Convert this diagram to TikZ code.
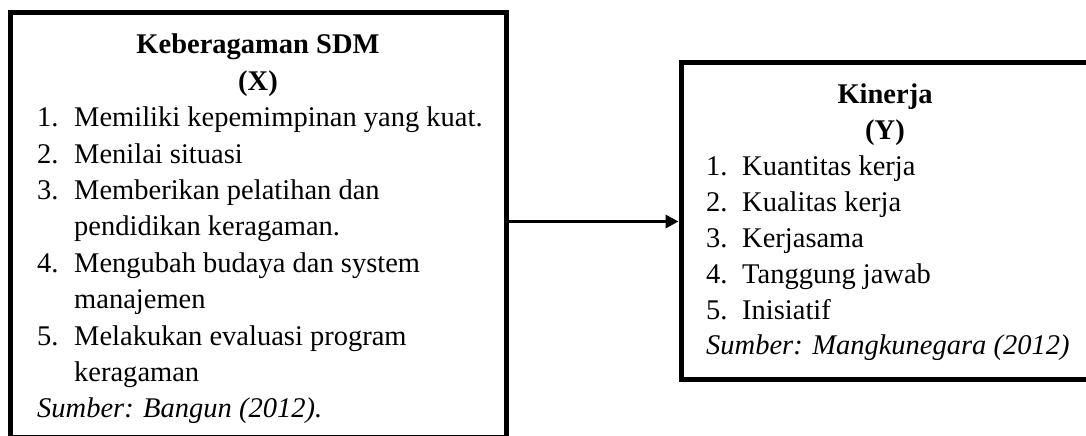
\documentclass[tikz,border=0pt]{standalone}
\usepackage{fontspec}
\setmainfont{Liberation Serif}
\usepackage{tikz}
\usetikzlibrary{arrows.meta,positioning}
\tikzset{frame/.style={draw,line width=5pt,inner sep=0pt},
  head/.style={anchor=base,inner sep=0pt,font=\fontsize{28.5}{36.4}\selectfont\bfseries},
  list/.style={anchor=base west,inner sep=0pt,font=\fontsize{28.5}{36.4}\selectfont},
  link/.style={line width=3.5pt,-{Triangle[length=13pt,width=13pt]}}}

\begin{document}
\begin{tikzpicture}[x=1pt,y=1pt]
                \useasboundingbox (0,0) rectangle (1086,436);
                \clip (0,0) rectangle (1086,436);

                % kotak variabel
                \node[frame,minimum width=496,minimum height=425] (boxX) at (258,210.5) {};
                \node[frame,minimum width=408,minimum height=317] (boxY) at (885,214.5) {};

                \node[head] (headX) at (258,382)
                    {\begin{tabular}[t]{@{}c@{}}Keberagaman SDM\\(X)\end{tabular}};
                \node[list] (listX) at (37,309.2)
                    {\begin{tabular}[t]{@{}p{37pt}@{}l@{}}
                    1. & Memiliki kepemimpinan yang kuat.\\
                    2. & Menilai situasi\\
                    3. & Memberikan pelatihan dan\\
                       & pendidikan keragaman.\\
                    4. & Mengubah budaya dan system\\
                       & manajemen\\
                    5. & Melakukan evaluasi program\\
                       & keragaman\\
                    \multicolumn{2}{@{}l@{}}{\itshape Sumber: Bangun (2012).}
                    \end{tabular}};

                \node[head,font=\fontsize{28.5}{35.8}\selectfont\bfseries] (headY) at (885,332)
                    {\begin{tabular}[t]{@{}c@{}}Kinerja\\(Y)\end{tabular}};
                \node[list,font=\fontsize{28.5}{35.8}\selectfont] (listY) at (706,260)
                    {\begin{tabular}[t]{@{}p{36pt}@{}l@{}}
                    1. & Kuantitas kerja\\
                    2. & Kualitas kerja\\
                    3. & Kerjasama\\
                    4. & Tanggung jawab\\
                    5. & Inisiatif\\
                    \multicolumn{2}{@{}l@{}}{\itshape Sumber: Mangkunegara (2012)}
                    \end{tabular}};

                \draw[link] (boxY.west -| boxX.east) -- (boxY.west);
\end{tikzpicture}
\end{document}
